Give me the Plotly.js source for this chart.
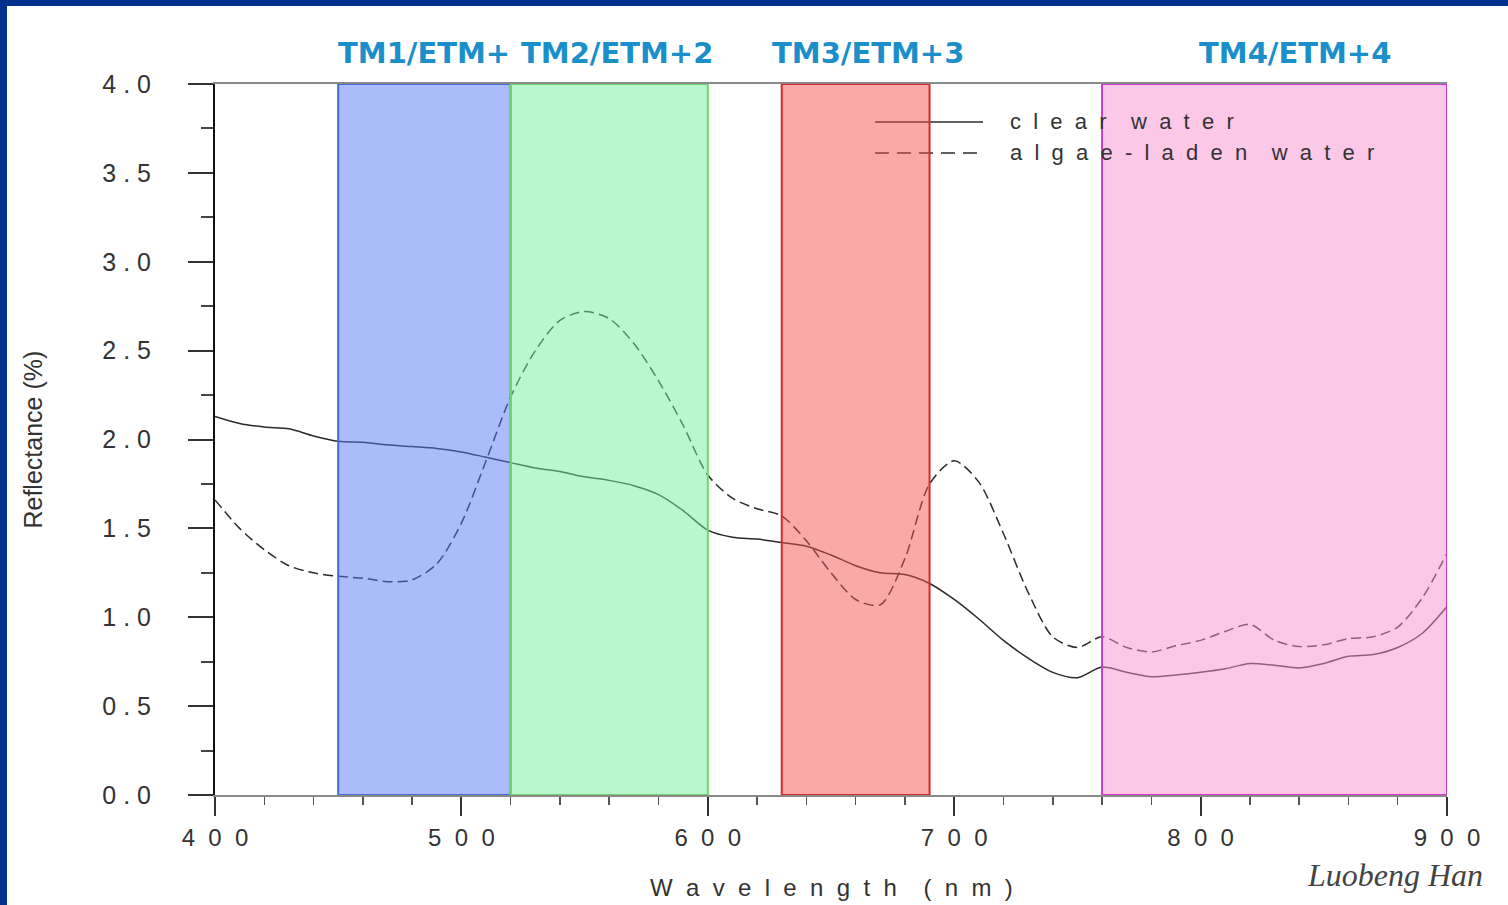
<!DOCTYPE html>
<html><head><meta charset="utf-8">
<script src="https://cdn.plot.ly/plotly-3.0.1.min.js"></script>
<style>
html,body{margin:0;padding:0;background:#002f8c;width:1508px;height:905px;overflow:hidden}
#chart{position:absolute;left:7px;top:6px;width:1501px;height:899px;background:#fff}
</style></head><body><div id="chart"></div>
<script>
// ---- data ----
const wavelength = [400,410,420,430,440,450,460,470,480,490,500,510,520,530,540,550,560,570,580,590,600,
  610,620,630,640,650,660,670,680,690,700,710,720,730,740,750,760,770,780,790,800,810,820,830,840,850,860,870,880,890,900];
const clearWater = [2.13,2.09,2.07,2.06,2.02,1.99,1.985,1.97,1.96,1.95,1.93,1.90,1.87,1.84,1.82,1.79,1.77,1.74,1.69,1.60,1.49,
  1.45,1.44,1.42,1.40,1.35,1.29,1.25,1.24,1.19,1.10,0.99,0.87,0.77,0.69,0.66,0.72,0.69,0.665,0.675,0.69,0.71,0.74,0.73,0.715,0.74,0.78,0.79,0.83,0.91,1.06];
const algaeWater = [1.66,1.50,1.38,1.29,1.25,1.23,1.22,1.20,1.21,1.30,1.53,1.88,2.24,2.50,2.67,2.72,2.68,2.54,2.33,2.08,1.80,
  1.67,1.61,1.57,1.43,1.25,1.10,1.07,1.33,1.75,1.88,1.76,1.47,1.14,0.89,0.83,0.89,0.83,0.805,0.84,0.87,0.92,0.96,0.87,0.835,0.845,0.88,0.89,0.945,1.11,1.36];
const seriesNames = ["clear water", "algae-laden water"];
const bandLabels = ["TM1/ETM+", "TM2/ETM+2", "TM3/ETM+3", "TM4/ETM+4"];
const bandStart = [450, 520, 630, 760];
const bandEnd = [520, 600, 690, 900];
const yTickValues = [0, 0.5, 1, 1.5, 2, 2.5, 3, 3.5, 4];
const xTickValues = [400, 500, 600, 700, 800, 900];
const xTitle = "Wavelength (nm)";
const yTitle = "Reflectance (%)";
const signature = "Luobeng Han";

// ---- styles ----
const NB = "\u00a0";
function spaced(s, g, wg) {
  return s.split(" ").map(w => w.split("").join(NB.repeat(g))).join(NB.repeat(wg));
}
const bandFill = ["rgba(85,123,245,0.5)", "rgba(113,241,153,0.5)", "rgba(247,81,81,0.5)", "rgba(249,145,209,0.5)"];
const bandLine = ["#3b6ddb", "#6fd36f", "#d42a2a", "#cc3dcc"];
const sans = "Liberation Sans, Arial, sans-serif";
const ink = "#2a2a2a";

const yAlias = {}; yTickValues.forEach(v => { yAlias[v.toFixed(1)] = spaced(v.toFixed(1), 1, 1); });
const xAlias = {}; xTickValues.forEach(v => { xAlias[String(v)] = spaced(String(v), 2, 2); });

const traces = [
  {x: wavelength, y: clearWater, name: seriesNames[0], type: "scatter", mode: "lines",
   line: {color: ink, width: 1.5, shape: "spline", smoothing: 0.8}, showlegend: false},
  {x: wavelength, y: algaeWater, name: seriesNames[1], type: "scatter", mode: "lines",
   line: {color: ink, width: 1.5, dash: "10px,5px", shape: "spline", smoothing: 0.8}, showlegend: false}
];

const shapes = [];
bandLabels.forEach((b, i) => {
  shapes.push({type: "rect", xref: "x", yref: "y", x0: bandStart[i], x1: bandEnd[i], y0: 0, y1: 4,
    fillcolor: bandFill[i], line: {color: bandLine[i], width: 2}, layer: "above"});
});
// legend samples
const legY = [0.9466, 0.903];
shapes.push({type: "line", xref: "paper", yref: "paper", x0: 0.5357, x1: 0.6234, y0: legY[0], y1: legY[0],
  line: {color: ink, width: 1.6}, layer: "below"});
shapes.push({type: "line", xref: "paper", yref: "paper", x0: 0.5357, x1: 0.6234, y0: legY[1], y1: legY[1],
  line: {color: ink, width: 1.6, dash: "14px,8px"}, layer: "below"});

const annotations = [];
const labelShift = [0, 8, 12, 20];
bandLabels.forEach((b, i) => {
  annotations.push({text: b, xref: "x", yref: "paper", x: (bandStart[i] + bandEnd[i]) / 2, y: 1.044,
    xshift: labelShift[i], xanchor: "center", yanchor: "middle", showarrow: false,
    font: {family: "DejaVu Sans, Verdana, sans-serif", size: 29, color: "#1b8fca", weight: "bold"}});
});
seriesNames.forEach((n, i) => {
  annotations.push({text: spaced(n, 2, 4), xref: "paper", yref: "paper", x: 0.6437, y: legY[i],
    xanchor: "left", yanchor: "middle", showarrow: false, font: {family: sans, size: 22, color: "#333"}});
});
annotations.push({text: spaced(xTitle, 2, 4), xref: "paper", yref: "paper", x: 0.5, y: -0.1294,
  xanchor: "center", yanchor: "middle", showarrow: false, font: {family: sans, size: 24, color: "#333"}});
annotations.push({text: yTitle, xref: "paper", yref: "paper", x: -0.1485, y: 0.5, textangle: -90,
  xanchor: "center", yanchor: "middle", showarrow: false, font: {family: sans, size: 25, color: "#333"}});
annotations.push({text: signature, xref: "paper", yref: "paper", x: 1.0308, y: -0.1125,
  xanchor: "right", yanchor: "middle", showarrow: false,
  font: {family: "Liberation Serif, Times New Roman, serif", size: 32, color: "#444", style: "italic"}});

const layout = {
  width: 1501, height: 899,
  margin: {l: 208, r: 61, t: 78, b: 110},
  paper_bgcolor: "#ffffff", plot_bgcolor: "#ffffff",
  showlegend: false,
  xaxis: {range: [400, 900], tickmode: "linear", tick0: 400, dtick: 100, labelalias: xAlias,
    ticks: "outside", ticklen: 19, tickwidth: 2, tickcolor: "#333",
    minor: {dtick: 20, ticks: "outside", ticklen: 8, tickwidth: 1.5, tickcolor: "#555"},
    showline: true, linecolor: "#8a8a8a", linewidth: 2, mirror: true,
    showgrid: false, zeroline: false, ticklabelstandoff: 1,
    tickfont: {family: sans, size: 24, color: "#333"}},
  yaxis: {range: [0, 4], tickmode: "linear", tick0: 0, dtick: 0.5, tickformat: ".1f", labelalias: yAlias,
    ticks: "outside", ticklen: 25, tickwidth: 2, tickcolor: "#333",
    minor: {dtick: 0.25, ticks: "outside", ticklen: 12, tickwidth: 2, tickcolor: "#444"},
    showline: true, linecolor: "#111", linewidth: 2,
    showgrid: false, zeroline: false, ticklabelstandoff: 32,
    tickfont: {family: sans, size: 25, color: "#333"}},
  shapes: shapes,
  annotations: annotations
};
Plotly.newPlot("chart", traces, layout, {displayModeBar: false, staticPlot: true});
</script></body></html>
